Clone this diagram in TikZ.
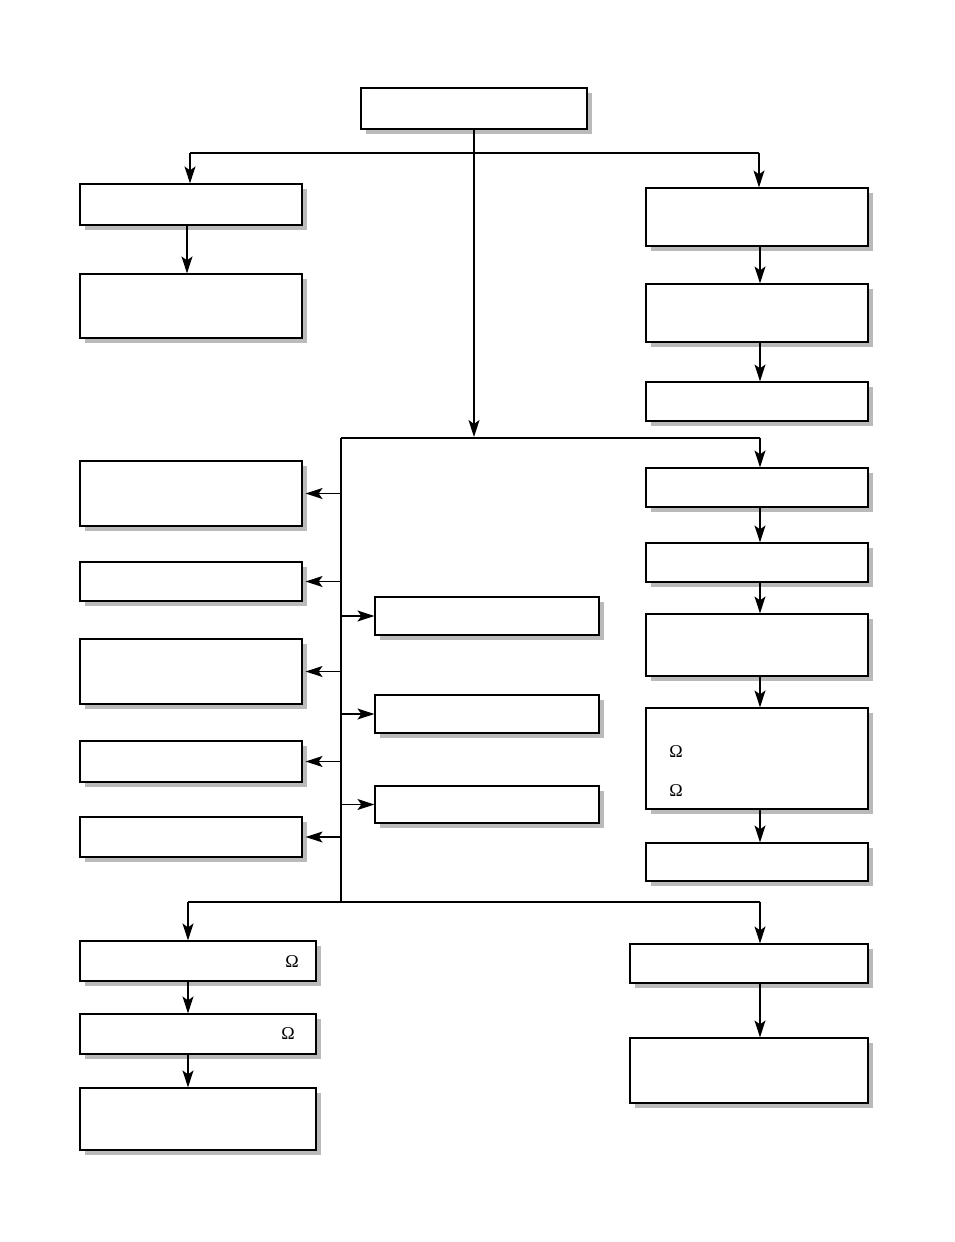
\documentclass[tikz,border=0pt]{standalone}
\usepackage{fontspec}
\setmainfont{Liberation Serif}
\usetikzlibrary{arrows.meta,shadows,calc}
\begin{document}
\begin{tikzpicture}[x=1pt,y=-1pt,
  box/.style={draw, line width=1.2pt, fill=white, inner sep=0pt,
    drop shadow={shadow xshift=5pt, shadow yshift=-5pt, fill=black!27, opacity=1}},
  line/.style={line width=1.2pt},
  arr/.style={line width=1.2pt, -{Stealth[length=17pt,width=11pt,inset=4pt]}},
  om/.style={font=\fontsize{18}{20}\selectfont, inner sep=0pt}]
\useasboundingbox (0,0) rectangle (954,1242);
\newcommand{\bx}[5]{\node[box, minimum width={#4-#2}, minimum height={#5-#3}] (#1) at ({(#2+#4)/2},{(#3+#5)/2}) {};}
\bx{top}{361}{88}{587}{129}
\bx{L1}{80}{184}{302}{225}
\bx{L2}{80}{274}{302}{338}
\bx{R1}{646}{188}{868}{246}
\bx{R2}{646}{284}{868}{342}
\bx{R3}{646}{382}{868}{421}
\bx{LB1}{80}{461}{302}{526}
\bx{LB2}{80}{562}{302}{601}
\bx{LB3}{80}{639}{302}{704}
\bx{LB4}{80}{741}{302}{782}
\bx{LB5}{80}{817}{302}{857}
\bx{MB1}{375}{597}{599}{635}
\bx{MB2}{375}{695}{599}{733}
\bx{MB3}{375}{786}{599}{823}
\bx{R4}{646}{468}{868}{507}
\bx{R5}{646}{543}{868}{582}
\bx{R6}{646}{614}{868}{676}
\bx{R7}{646}{708}{868}{809}
\bx{R8}{646}{843}{868}{881}
\bx{B1}{80}{941}{316}{981}
\bx{B2}{80}{1014}{316}{1054}
\bx{B3}{80}{1088}{316}{1150}
\bx{BR1}{630}{944}{868}{983}
\bx{BR2}{630}{1038}{868}{1103}
% Omega labels
\node[om] (o1) at (676,752) {Ω};
\node[om] (o2) at (676,791) {Ω};
\node[om] (o3) at (292,962) {Ω};
\node[om] (o4) at (288,1034) {Ω};
% bus coordinates
\coordinate (hubB) at (474,437);
\coordinate (spineTop) at (341,438);
\coordinate (spineBot) at (341,902);
\coordinate (rx) at (760,0);
\coordinate (lx) at (188,0);
% top fan-out
\draw[arr] (top.south) -- (hubB);
\draw[line] (190,153) -- (759,153);
\draw[arr] (190,153) -- (L1.north -| 190,0);
\draw[arr] (759,153) -- (R1.north -| 759,0);
\draw[arr] (L1.south -| 187,0) -- (L2.north -| 187,0);
\draw[arr] (R1.south -| rx) -- (R2.north -| rx);
\draw[arr] (R2.south -| rx) -- (R3.north -| rx);
% middle bus
\draw[line] (spineTop) -- (spineTop -| rx);
\draw[arr] (spineTop -| rx) -- (R4.north -| rx);
\draw[line] (spineTop) -- (spineBot);
\foreach \n in {LB1,LB2,LB3,LB4,LB5}{
  \draw[arr] (\n.east -| spineTop) -- ($(\n.east)+(3,0)$);
}
\foreach \n in {MB1,MB2,MB3}{
  \draw[arr] (\n.west -| spineTop) -- (\n.west);
}
\draw[arr] (R4.south -| rx) -- (R5.north -| rx);
\draw[arr] (R5.south -| rx) -- (R6.north -| rx);
\draw[arr] (R6.south -| rx) -- (R7.north -| rx);
\draw[arr] (R7.south -| rx) -- (R8.north -| rx);
% bottom bus
\draw[line] (spineBot -| lx) -- (spineBot -| rx);
\draw[arr] (spineBot -| lx) -- (B1.north -| lx);
\draw[arr] (spineBot -| rx) -- (BR1.north -| rx);
\draw[arr] (B1.south -| lx) -- (B2.north -| lx);
\draw[arr] (B2.south -| lx) -- (B3.north -| lx);
\draw[arr] (BR1.south -| rx) -- (BR2.north -| rx);
\end{tikzpicture}
\end{document}
